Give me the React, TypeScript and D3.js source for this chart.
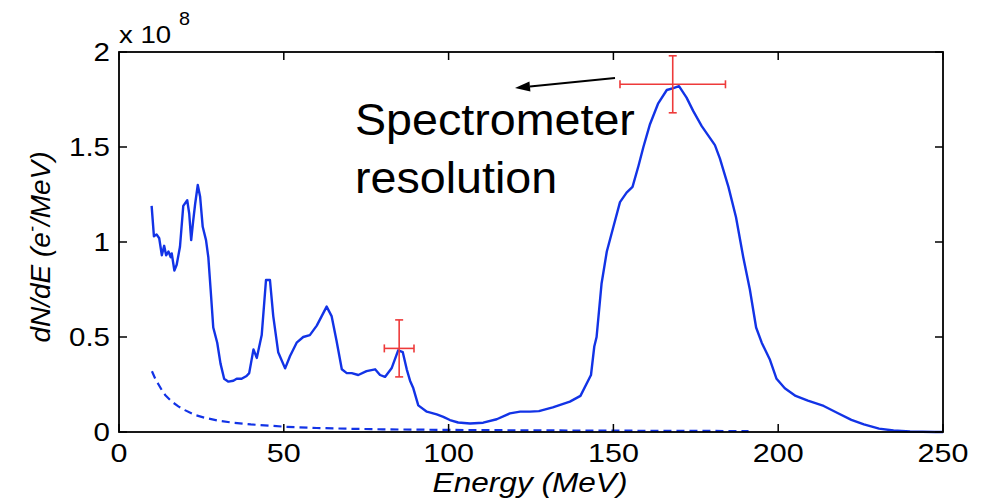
import React from "react";
import * as d3 from "d3";

// Energy (MeV) and dN/dE (units of 1e8 e-/MeV) for the measured spectrum
const energy: number[] = [
  9.9, 10.6, 11.4, 12.2, 13.0, 13.7, 14.3, 15.0, 15.7, 16.0, 16.8, 17.5, 18.5, 19.5, 20.7, 21.3, 21.9, 22.5, 23.1, 23.9,
  24.6, 25.4, 26.4, 27.1, 27.8, 28.6, 29.8, 30.8, 31.9, 33.2, 34.7, 35.7, 37.2, 38.7, 39.5, 40.8, 41.8, 43.3, 44.6, 45.8,
  46.8, 48.3, 50.4, 51.9, 53.9, 55.9, 57.9, 60.0, 63.0, 64.5, 66.0, 67.6, 69.1, 70.6, 72.6, 75.1, 77.7, 79.2, 80.7, 82.7,
  84.7, 86.1, 87.3, 88.3, 89.3, 90.8, 93.4, 96.4, 98.4, 100.4, 102.9, 106.5, 110.5, 114.6, 118.6, 121.7, 124.7, 127.4, 131.6, 136.8,
  140.0, 143.2, 144.2, 144.9, 146.4, 148.0, 150.0, 152.0, 154.0, 155.8, 157.6, 159.1, 161.1, 163.6, 166.2, 168.2, 169.9, 172.2, 174.2, 176.8,
  178.8, 180.8, 182.3, 184.9, 187.2, 189.4, 191.4, 193.3, 195.0, 197.5, 199.5, 202.0, 205.3, 209.0, 213.8, 218.0, 222.2, 226.0, 230.6, 235.0,
  240.0, 247.5, 250.0,
];
const spectrum: number[] = [
  1.19, 1.03, 1.04, 1.02, 0.93, 0.98, 0.93, 0.95, 0.92, 0.94, 0.85, 0.88, 0.975, 1.19, 1.22, 1.15, 1.01, 1.11, 1.2, 1.3,
  1.24, 1.08, 1.01, 0.92, 0.75, 0.55, 0.47, 0.36, 0.28, 0.265, 0.27, 0.28, 0.28, 0.295, 0.31, 0.435, 0.39, 0.51, 0.8, 0.8,
  0.61, 0.42, 0.335, 0.4, 0.47, 0.5, 0.51, 0.56, 0.66, 0.61, 0.48, 0.33, 0.31, 0.31, 0.3, 0.32, 0.33, 0.3, 0.29, 0.335,
  0.43, 0.42, 0.33, 0.27, 0.23, 0.14, 0.107, 0.093, 0.08, 0.063, 0.05, 0.045, 0.049, 0.067, 0.098, 0.107, 0.107, 0.11, 0.13, 0.16,
  0.19, 0.3, 0.45, 0.5, 0.78, 0.95, 1.08, 1.21, 1.26, 1.29, 1.4, 1.5, 1.62, 1.73, 1.8, 1.81, 1.82, 1.76, 1.69, 1.61,
  1.56, 1.51, 1.44, 1.29, 1.13, 0.92, 0.75, 0.55, 0.47, 0.38, 0.28, 0.23, 0.19, 0.165, 0.137, 0.1, 0.064, 0.04, 0.018, 0.008,
  0.003, 0.0, 0.0,
];

// Dashed background curve
const bgEnergy: number[] = [10, 11, 12, 13, 14, 16, 18, 20, 23, 26, 30, 35, 40, 50, 60, 70, 80, 100, 120, 150, 191];
const bgValue: number[] = [0.32, 0.28, 0.25, 0.22, 0.195, 0.16, 0.135, 0.115, 0.09, 0.075, 0.06, 0.048, 0.04, 0.028, 0.021, 0.017, 0.014, 0.011, 0.009, 0.007, 0.005];

// Error bars (resolution): centre E, centre value, half-width E, half-height value
const errE: number[] = [85, 168];
const errY: number[] = [0.44, 1.83];
const errDE: number[] = [4.5, 16];
const errDY: number[] = [0.15, 0.15];

const xTicks: number[] = [0, 50, 100, 150, 200, 250];
const yTicks: number[] = [0, 0.5, 1, 1.5, 2];
const yTickLabels: string[] = ["0", "0.5", "1", "1.5", "2"];

const W = 987;
const H = 498;
const L = 119, R = 943, T = 52, B = 432;
const FONT = "'Liberation Sans', Arial, Helvetica, sans-serif";
const BLUE = "#1233e6";
const RED = "#ee3a3a";

export default function App() {
  const x = d3.scaleLinear().domain([0, 250]).range([L, R]);
  const y = d3.scaleLinear().domain([0, 2]).range([B, T]);

  const line = d3.line<[number, number]>().x((d) => x(d[0])).y((d) => y(d[1]));
  const mainPath = line(energy.map((e, i) => [e, spectrum[i]] as [number, number])) || "";
  const bgPath = line(bgEnergy.map((e, i) => [e, bgValue[i]] as [number, number])) || "";

  const tickLen = 8;
  const cap = 4;

  // arrow
  const ax1 = 615, ay1 = 78, ax2 = 515, ay2 = 88;
  const ang = Math.atan2(ay2 - ay1, ax2 - ax1);
  const hl = 15, hw = 5;
  const bx = ax2 - hl * Math.cos(ang), by = ay2 - hl * Math.sin(ang);
  const px = -Math.sin(ang) * hw, py = Math.cos(ang) * hw;

  return (
    <svg width={W} height={H} style={{ position: "absolute", left: 0, top: 0, background: "#fff" }} fontFamily={FONT}>
      <rect x={0} y={0} width={W} height={H} fill="#fff" />
      {/* curves */}
      <path d={bgPath} fill="none" stroke={BLUE} strokeWidth={2.2} strokeDasharray="8,5" />
      <path d={mainPath} fill="none" stroke={BLUE} strokeWidth={2.4} strokeLinejoin="round" />

      {/* frame */}
      <rect x={L} y={T} width={R - L} height={B - T} fill="none" stroke="#000" strokeWidth={1.8} />
      {xTicks.map((t) => (
        <g key={"xt" + t}>
          <line x1={x(t)} x2={x(t)} y1={B} y2={B - tickLen} stroke="#000" strokeWidth={1.5} />
          <line x1={x(t)} x2={x(t)} y1={T} y2={T + tickLen} stroke="#000" strokeWidth={1.5} />
          <text transform={`translate(${x(t)},462) scale(1.22,1)`} textAnchor="middle" fontSize={25} fill="#000">
            {t}
          </text>
        </g>
      ))}
      {yTicks.map((t, i) => (
        <g key={"yt" + t}>
          <line x1={L} x2={L + tickLen} y1={y(t)} y2={y(t)} stroke="#000" strokeWidth={1.5} />
          <line x1={R} x2={R - tickLen} y1={y(t)} y2={y(t)} stroke="#000" strokeWidth={1.5} />
          <text transform={`translate(110,${y(t) + 9}) scale(1.18,1)`} textAnchor="end" fontSize={25} fill="#000">
            {yTickLabels[i]}
          </text>
        </g>
      ))}
      {/* exponent */}
      <text transform="translate(119,43) scale(1.2,1)" fontSize={23} fill="#000">
        x 10
      </text>
      <text transform="translate(179,25) scale(1.1,1)" fontSize={18} fill="#000">
        8
      </text>

      {/* axis labels */}
      <text transform="translate(530,492) scale(1.17,1)" textAnchor="middle" fontSize={27} fontStyle="italic" fill="#000">
        Energy (MeV)
      </text>
      <text transform="translate(50,247) rotate(-90)" textAnchor="middle" fontSize={28} fontStyle="italic" fill="#000">
        dN/dE (e<tspan fontSize={18} dy={-12}>-</tspan>
        <tspan dy={12}>/MeV)</tspan>
      </text>

      {/* error bars */}
      {errE.map((e, i) => {
        const cx = x(e), cy = y(errY[i]);
        const x0 = x(e - errDE[i]), x1 = x(e + errDE[i]);
        const y0 = y(errY[i] + errDY[i]), y1 = y(errY[i] - errDY[i]);
        return (
          <g key={"err" + i} stroke={RED} strokeWidth={1.6}>
            <line x1={x0} x2={x1} y1={cy} y2={cy} />
            <line x1={x0} x2={x0} y1={cy - cap} y2={cy + cap} />
            <line x1={x1} x2={x1} y1={cy - cap} y2={cy + cap} />
            <line x1={cx} x2={cx} y1={y0} y2={y1} />
            <line x1={cx - cap} x2={cx + cap} y1={y0} y2={y0} />
            <line x1={cx - cap} x2={cx + cap} y1={y1} y2={y1} />
          </g>
        );
      })}

      {/* annotation */}
      <line x1={ax1} y1={ay1} x2={bx} y2={by} stroke="#000" strokeWidth={1.8} />
      <path d={`M${ax2},${ay2} L${bx + px},${by + py} L${bx - px},${by - py} Z`} fill="#000" />
      <text transform="translate(355,135) scale(1.06,1)" fontSize={44} fill="#000">
        Spectrometer
      </text>
      <text transform="translate(355,193) scale(1.06,1)" fontSize={44} fill="#000">
        resolution
      </text>
    </svg>
  );
}
